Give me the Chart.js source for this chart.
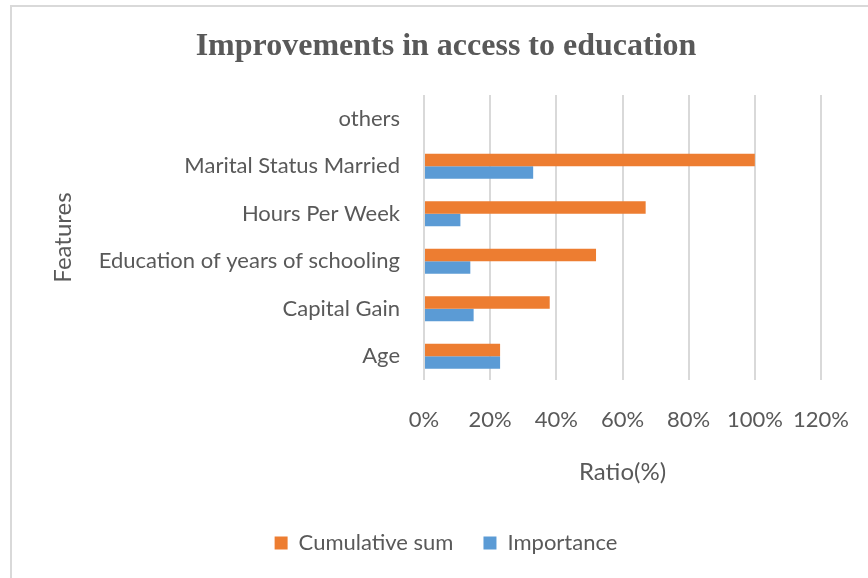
<!DOCTYPE html>
<html>
<head>
<meta charset="utf-8">
<script src="https://cdn.jsdelivr.net/npm/chart.js@4/dist/chart.umd.min.js"></script>
<style>
  html, body { margin: 0; padding: 0; background: #fff; overflow: hidden; }
  #frame {
    position: absolute; left: 10px; top: 5px; width: 920px; height: 620px;
    border: 2px solid #d9d9d9; box-sizing: border-box;
  }
  #wrap { position: absolute; left: 0; top: 0; width: 892px; height: 578px; }
</style>
</head>
<body>
<div id="frame"></div>
<div id="wrap"><canvas id="chart"></canvas></div>
<script>
  // categories, top to bottom as in the picture
  const features = ['others', 'Marital Status Married', 'Hours Per Week',
    'Education of years of schooling', 'Capital Gain', 'Age'];

  // values in percent
  const cumulativeSum = [0, 100, 67, 52, 38, 23];
  const importance = [0, 33, 11, 14, 15, 23];

  const xTicks = [0, 20, 40, 60, 80, 100, 120];

  const textColor = '#595959';
  const sansFont = 'Lato, "Noto Sans", sans-serif';

  new Chart(document.getElementById('chart'), {
    type: 'bar',
    data: {
      labels: features,
      datasets: [
        {
          label: 'Cumulative sum',
          data: cumulativeSum,
          backgroundColor: '#ed7d31',
          barPercentage: 1,
          categoryPercentage: 0.53
        },
        {
          label: 'Importance',
          data: importance,
          backgroundColor: '#5b9bd5',
          barPercentage: 1,
          categoryPercentage: 0.53
        }
      ]
    },
    options: {
      indexAxis: 'y',
      responsive: true,
      maintainAspectRatio: false,
      animation: false,
      layout: { padding: { top: 0, left: 0, right: 0, bottom: 14 } },
      plugins: {
        title: {
          display: true,
          text: 'Improvements in access to education',
          color: textColor,
          font: { family: '"Liberation Serif", "Times New Roman", serif', size: 32, weight: 'bold' },
          padding: { top: 27.5, bottom: 29.1 }
        },
        legend: {
          position: 'bottom',
          labels: {
            color: textColor,
            font: { family: sansFont, size: 22 },
            boxWidth: 13,
            boxHeight: 13,
            padding: 30
          }
        },
        tooltip: { enabled: false }
      },
      scales: {
        x: {
          min: 0,
          max: 120,
          afterBuildTicks: scale => {
            scale.ticks = xTicks.map(v => ({ value: v }));
          },
          afterFit: scale => { scale.height = 122; },
          ticks: {
            color: textColor,
            font: { family: sansFont, size: 22 },
            padding: 27,
            callback: v => v + '%'
          },
          grid: { color: '#d9d9d9', lineWidth: 2, drawTicks: false },
          border: { display: false },
          title: {
            display: true,
            text: 'Ratio(%)',
            color: textColor,
            font: { family: sansFont, size: 24 },
            padding: { top: 0, bottom: 15 }
          }
        },
        y: {
          afterFit: scale => { scale.width = 424; },
          ticks: {
            color: textColor,
            font: { family: sansFont, size: 22 },
            padding: 24
          },
          grid: { display: false, drawTicks: false },
          border: { display: false },
          title: {
            display: true,
            text: 'Features',
            color: textColor,
            font: { family: sansFont, size: 24 },
            padding: { top: 49, bottom: 0 }
          }
        },
        // empty right-hand axis that only keeps space beside the plot
        yRight: {
          axis: 'y',
          position: 'right',
          afterFit: scale => { scale.width = 71; },
          ticks: { display: false },
          grid: { display: false, drawTicks: false },
          border: { display: false }
        }
      }
    }
  });
</script>
</body>
</html>
